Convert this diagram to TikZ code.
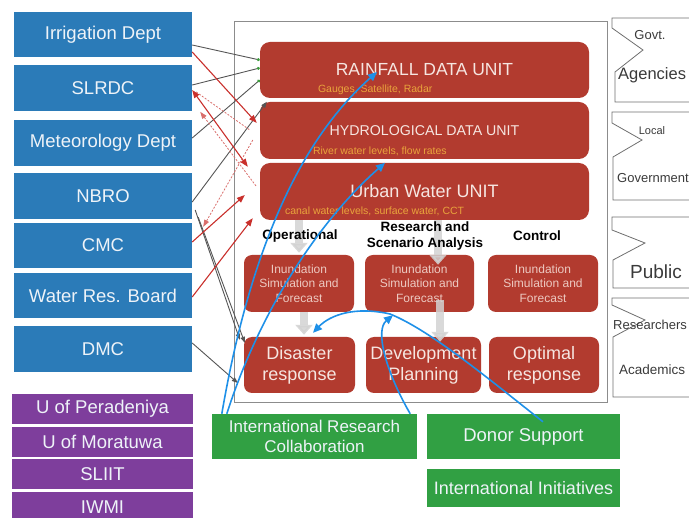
\documentclass[tikz,border=0pt]{standalone}
\usepackage{fontspec}
\setmainfont{Liberation Sans}
\usepackage{xcolor}
\usepackage{tikz}
\usetikzlibrary{arrows.meta,calc}

\definecolor{agencyblue}{HTML}{2B7BB8}
\definecolor{unipurple}{HTML}{7E3E9C}
\definecolor{unitred}{HTML}{B23B2F}
\definecolor{suborange}{HTML}{E9A43C}
\definecolor{unittext}{HTML}{F6E6E1}
\definecolor{simtext}{HTML}{EDC9C1}
\definecolor{lighttext}{HTML}{EEF3F8}
\definecolor{donorgreen}{HTML}{31A043}
\definecolor{framegray}{HTML}{8C8C8C}
\definecolor{taggray}{HTML}{6E6E6E}
\definecolor{tagtext}{HTML}{3A3A3A}
\definecolor{fatgray}{HTML}{D2D2D2}
\definecolor{linkgray}{HTML}{555555}
\definecolor{linkred}{HTML}{C9302C}
\definecolor{linkblue}{HTML}{1E90E8}
\definecolor{dotgreen}{HTML}{3C9A3C}

\begin{document}
\begin{tikzpicture}[x=1pt, y=-1pt,
    bluebox/.style={fill=agencyblue, text=lighttext, minimum width=178pt, minimum height=46pt, inner sep=2pt, font=\fontsize{18.5}{20}\selectfont},
    unibox/.style={fill=unipurple, text=lighttext, minimum width=181pt, minimum height=30pt, inner sep=1pt, font=\fontsize{18.5}{20}\selectfont},
    unitbox/.style={fill=unitred, text=unittext, rounded corners=10pt, minimum width=329pt, minimum height=56pt, inner sep=2pt},
    subtext/.style={text=suborange, font=\fontsize{10.5}{12}\selectfont, anchor=west, inner sep=0pt},
    simbox/.style={fill=unitred, text=simtext, rounded corners=8pt, minimum width=110pt, minimum height=57pt, align=center, inner sep=1pt, font=\fontsize{12}{14.5}\selectfont},
    resbox/.style={simbox, text=unittext, minimum height=56pt, font=\fontsize{18}{21}\selectfont},
    head/.style={font=\bfseries\fontsize{13.5}{16}\selectfont, align=center, inner sep=1pt},
    greenbox/.style={fill=donorgreen, text=lighttext, inner sep=1pt, align=center},
    tag/.style={draw=taggray, line width=0.8pt},
    tagword/.style={text=tagtext, inner sep=0pt},
    fatarrow/.style={line width=8pt, draw=fatgray, opacity=0.85, -{Triangle[length=10pt,width=17pt]}},
    link/.style={draw=linkgray, line width=0.9pt},
    redlink/.style={draw=linkred, line width=1.1pt},
    reddots/.style={draw=linkred!70, line width=0.8pt, dash pattern=on 2pt off 1.5pt},
    bluelink/.style={draw=linkblue, line width=1.6pt, -{Triangle[length=9pt,width=8pt]}}
]
    \useasboundingbox (0,0) rectangle (689,518);
    \clip (0,0) rectangle (689,518);

    % main frame and data units
    \node[draw=framegray, line width=0.8pt, minimum width=373pt, minimum height=381pt, inner sep=0pt] (frame) at (420.5,211.5) {};

    \node[unitbox, font=\fontsize{17.5}{20}\selectfont] (rain) at (424.5,70) {RAINFALL DATA UNIT};
    \node[subtext] (raintxt) at ([xshift=58pt,yshift=8pt]rain.south west) {Gauges, Satellite, Radar};
    \node[unitbox, minimum height=57pt, font=\fontsize{14.2}{16}\selectfont] (hydro) at (424.5,130.5) {HYDROLOGICAL DATA UNIT};
    \node[subtext] (hydrotxt) at ([xshift=53pt,yshift=8pt]hydro.south west) {River water levels, flow rates};
    \node[unitbox, minimum height=57pt, font=\fontsize{18}{20}\selectfont] (urban) at (424.5,191.5) {Urban Water UNIT};
    \node[subtext] (urbantxt) at ([xshift=25pt,yshift=9pt]urban.south west) {canal water levels, surface water, CCT};

    % simulation and response rows
    \node[simbox] (sim1) at (299,283.5) {Inundation\\Simulation and\\Forecast};
    \node[simbox, minimum width=109pt] (sim2) at (419.5,283.5) {Inundation\\Simulation and\\Forecast};
    \node[simbox] (sim3) at (543,283.5) {Inundation\\Simulation and\\Forecast};
    \node[resbox, minimum width=111pt] (disaster) at (299.5,365) {Disaster\\response};
    \node[resbox, minimum width=115pt] (devel) at (423.5,365) {Development\\Planning};
    \node[resbox] (optim) at (544,365) {Optimal\\response};

    \draw[fatarrow] (urban.south -| sim1.north) -- ([yshift=2pt]sim1.north);
    \draw[fatarrow] ([xshift=18.5pt]sim2.north |- urban.south) -- ([xshift=18.5pt,yshift=-10pt]sim2.north);
    \draw[fatarrow] ([xshift=5pt]sim1.south) -- ([xshift=5pt,yshift=2pt]sim1.south |- disaster.north);
    \draw[fatarrow] ([xshift=20.5pt,yshift=12pt]sim2.south) -- ([xshift=20.5pt,yshift=-5pt]sim2.south |- devel.north);

    \node[head] (oper) at (300,236) {Operational};
    \node[head] (research) at (425,236) {Research and\\Scenario Analysis};
    \node[head] (control) at (537,236) {Control};

    % support
    \node[greenbox, minimum width=205pt, minimum height=45pt, font=\fontsize{17}{20}\selectfont] (irc) at (314.5,436.5) {International Research\\Collaboration};
    \node[greenbox, minimum width=193pt, minimum height=45pt, font=\fontsize{18.5}{20}\selectfont] (donor) at (523.5,436.5) {Donor Support};
    \node[greenbox, minimum width=193pt, minimum height=38pt, font=\fontsize{18}{20}\selectfont] (intl) at (523.5,488) {International Initiatives};

    % agencies
    \node[bluebox, minimum height=45pt] (irr) at (103,34.5) {Irrigation Dept};
    \node[bluebox] (slrdc) at (103,88) {SLRDC};
    \node[bluebox] (met) at (103,143) {Meteorology Dept};
    \node[bluebox] (nbro) at (103,196) {NBRO};
    \node[bluebox, minimum height=45pt] (cmc) at (103,245.5) {CMC};
    \node[bluebox, minimum height=45pt] (wrb) at (103,295.5) {Water Res. Board};
    \node[bluebox] (dmc) at (103,349) {DMC};

    \node[unibox] (pera) at (102.5,409) {U of Peradeniya};
    \node[unibox] (mora) at (102.5,442) {U of Moratuwa};
    \node[unibox] (sliit) at (102.5,474) {SLIIT};
    \node[unibox] (iwmi) at (102.5,507) {IWMI};

    % users
    \draw[tag] (700,18) -- (612,18) -- (612,28) -- (643,50) -- (615,72) -- (615,102) -- (700,102);
    \node[tagword, font=\fontsize{13}{15}\selectfont] (govt) at (650,35) {Govt.};
    \node[tagword, anchor=west, font=\fontsize{16.5}{18}\selectfont] (agen) at (618,75) {Agencies};
    \draw[tag] (700,112) -- (612,112) -- (612,123) -- (642,140) -- (613,157) -- (613,200) -- (700,200);
    \node[tagword, font=\fontsize{11}{13}\selectfont] (local) at (652,131) {Local};
    \node[tagword, anchor=west, font=\fontsize{13}{15}\selectfont] (govmt) at (617,178) {Government};
    \draw[tag] (700,217) -- (612,217) -- (612,230) -- (645,243) -- (613,260) -- (613,288) -- (700,288);
    \node[tagword, font=\fontsize{19}{21}\selectfont] (public) at (656,272) {Public};
    \draw[tag] (700,298) -- (612,298) -- (612,305) -- (645,320) -- (613,337) -- (613,397) -- (700,397);
    \node[tagword, anchor=west, font=\fontsize{13}{15}\selectfont] (resr) at (613,325) {Researchers};
    \node[tagword, anchor=west, font=\fontsize{13.5}{15}\selectfont] (acad) at (619,370) {Academics};

    % data links
    \draw[link, -{Circle[length=3pt, color=dotgreen, fill=dotgreen]}] ([yshift=-10.5pt]irr.east) -- ([yshift=10pt]rain.west);
    \draw[link, -{Circle[length=3pt, color=dotgreen, fill=dotgreen]}] ([yshift=3pt]slrdc.east) -- ([yshift=2pt]rain.west);
    \draw[link, -{Circle[length=3pt, color=dotgreen, fill=dotgreen]}] ([yshift=5pt]met.east) -- ([yshift=-10pt]rain.west);
    \draw[link, -{Triangle[length=6pt,width=4.5pt]}] ([yshift=-6pt]nbro.east) -- ([xshift=7pt]hydro.north west);
    \draw[link, -{Triangle[length=6pt,width=4.5pt]}] ([xshift=3pt,yshift=-14pt]nbro.east) -- ([xshift=-4pt,yshift=-3pt]disaster.north west);
    \draw[link, -{Triangle[length=6pt,width=4.5pt]}] ([xshift=6pt,yshift=2pt]nbro.south east) -- ([xshift=1pt,yshift=-6pt]disaster.north west);
    \draw[link, -{Triangle[length=6pt,width=4.5pt]}] ([yshift=6pt]dmc.east) -- ([xshift=-6pt,yshift=-18pt]disaster.west);

    \draw[redlink, -{Triangle[length=8pt,width=6pt]}] ([yshift=-17.5pt]irr.east) -- ([xshift=-3pt,yshift=7.5pt]hydro.west);
    \draw[redlink, {Triangle[length=8pt,width=6pt]}-{Triangle[length=8pt,width=6pt]}] ([yshift=-2pt]slrdc.east) -- ([xshift=-12pt,yshift=-4pt]urban.north west);
    \draw[redlink, -{Triangle[length=8pt,width=6pt]}] ([yshift=3.5pt]cmc.east) -- ([xshift=-15pt,yshift=-3.5pt]urban.west);
    \draw[redlink, -{Triangle[length=8pt,width=6pt]}] ([yshift=-1.5pt]wrb.east) -- ([xshift=-7pt,yshift=2pt]urban.south west);
    \draw[reddots] ([xshift=4pt,yshift=-4pt]slrdc.east) -- ([xshift=-10pt,yshift=0.5pt]hydro.west);
    \draw[reddots, {Triangle[length=7pt,width=5pt]}-] ([xshift=8pt,yshift=8pt]met.north east) -- ([xshift=-3pt,yshift=4.5pt]urban.west);
    \draw[reddots, -{Triangle[length=7pt,width=5pt]}] ([xshift=-7pt,yshift=-9.5pt]hydro.west) -- ([xshift=11pt,yshift=-4pt]cmc.north east);

    % collaboration links
    \draw[bluelink] ([xshift=10pt]irc.north west) .. controls (250,250) and (300,140) .. ([xshift=-47.5pt,yshift=-2pt]rain.center);
    \draw[bluelink] ([xshift=15pt]irc.north west) .. controls (260,310) and (320,220) .. ([xshift=-39.5pt]urban.north);
    \draw[bluelink] ([xshift=-7pt]irc.north east) .. controls (385,370) and (375,330) .. ([xshift=-26.5pt,yshift=-3pt]sim2.south);
    \draw[bluelink] ([xshift=19.5pt,yshift=-8pt]donor.north) .. controls (490,380) and (430,330) .. (390,314) .. controls (355,306) and (330,315) .. ([xshift=13.5pt,yshift=4pt]disaster.north);
\end{tikzpicture}
\end{document}
